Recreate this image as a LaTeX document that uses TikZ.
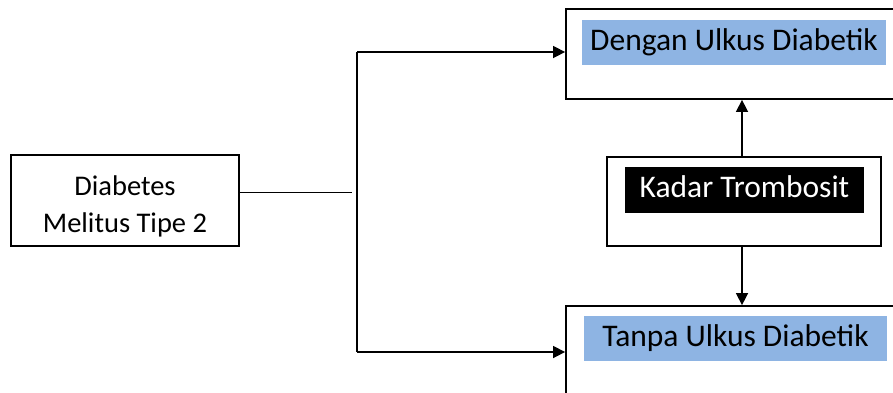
\documentclass[tikz,border=0pt]{standalone}
\usepackage{fontspec}
\setmainfont{Carlito}
\usetikzlibrary{arrows.meta}
\definecolor{hlblue}{HTML}{8EB4E3}
\begin{document}
\begin{tikzpicture}[x=1pt,y=-1pt,
  frame/.style={draw=black, line width=1.8pt, inner sep=0pt},
  hl/.style={inner sep=0pt, text height=30pt, text depth=15pt, font=\fontsize{31.5}{36}\selectfont},
  arr/.style={line width=1.5pt, -{Triangle[length=12pt,width=12pt]}},
  wire/.style={line width=1.5pt}]
\useasboundingbox (0,0) rectangle (893,392);
% boxes
\node[frame, line width=1.5pt, minimum width=228, minimum height=91] (dm) at (125,200.5) {};
\node[frame, minimum width=339, minimum height=90] (top) at (735.5,54) {};
\node[frame, minimum width=274, minimum height=89] (mid) at (744,201.5) {};
\node[frame, minimum width=339, minimum height=114] (bot) at (735.5,363) {};
% texts
\node[align=center, font=\fontsize{28.5}{37}\selectfont, inner sep=0pt] (dmt) at (125,206) {Diabetes\\Melitus Tipe 2};
\node[hl, fill=hlblue, minimum width=304] (topt) at (734,42.5) {Dengan Ulkus Diabetik};
\node[hl, fill=hlblue, minimum width=303] (bott) at (735.5,338.5) {Tanpa Ulkus Diabetik};
\node[hl, fill=black, text=white, minimum width=239, text depth=16pt] (midt) at (744.5,190) {Kadar Trombosit};
% connectors
\coordinate (j) at (352,192);
\coordinate (s1) at (357,52);
\coordinate (s2) at (357,352);
\draw[line width=1pt] (dm.east |- j) -- (j);
\draw[wire] (s1) -- (s2);
\draw[arr] (s1) -- (s1 -| top.west);
\draw[arr] (s2) -- (s2 -| bot.west);
\draw[arr] ([xshift=-2pt]mid.north) -- ([xshift=-2pt]mid.north |- top.south);
\draw[arr] ([xshift=-2pt]mid.south) -- ([xshift=-2pt]mid.south |- bot.north);
\end{tikzpicture}
\end{document}
